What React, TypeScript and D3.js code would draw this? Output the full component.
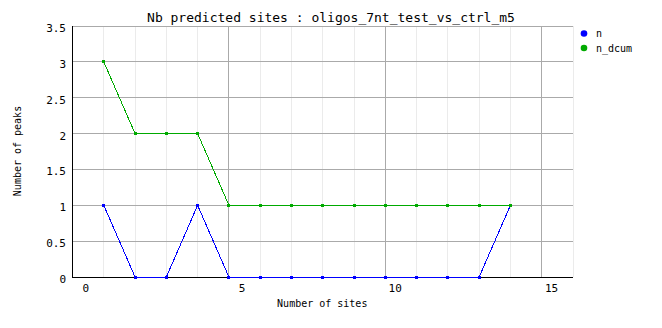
import React from "react";
import * as d3 from "d3";

const title = "Nb predicted sites : oligos_7nt_test_vs_ctrl_m5";
const xLabel = "Number of sites";
const yLabel = "Number of peaks";
const sites = [1, 2, 3, 4, 5, 6, 7, 8, 9, 10, 11, 12, 13, 14];
const seriesN = [1, 0, 0, 1, 0, 0, 0, 0, 0, 0, 0, 0, 0, 1];
const seriesNdcum = [3, 2, 2, 2, 1, 1, 1, 1, 1, 1, 1, 1, 1, 1];
const seriesNames = ["n", "n_dcum"];
const seriesColors = ["#0000ff", "#00aa00"];
const xTicks = [0, 5, 10, 15];
const yTicks = [0, 0.5, 1, 1.5, 2, 2.5, 3, 3.5];

const W = 662;
const H = 328;
const FONT = "'DejaVu Sans Mono', monospace";

export default function App() {
  const x = d3.scaleLinear().domain([0, 16]).range([72, 572.5]);
  const y = d3.scaleLinear().domain([0, 3.5]).range([276.5, 25.5]);
  const minorX = d3.range(1, 17);
  const majorX = minorX.filter((v) => v % 5 === 0);
  const series = [seriesN, seriesNdcum];
  const line = d3
    .line<number>()
    .x((_, i) => x(sites[i]))
    .y((d) => y(d));
  const px = (v: number) => Math.round(v) + 0.5;

  return (
    <svg
      width={W}
      height={H}
      style={{ position: "absolute", left: 0, top: 0, background: "#fff" }}
    >
      <rect x={0} y={0} width={W} height={H} fill="#fff" />
      {/* minor vertical grid */}
      <g shapeRendering="crispEdges">
        {minorX.map((v) => (
          <line
            key={"mn" + v}
            x1={px(x(v))}
            x2={px(x(v))}
            y1={y(3.5)}
            y2={y(0)}
            stroke="#ebebeb"
          />
        ))}
        {majorX.map((v) => (
          <line
            key={"mj" + v}
            x1={px(x(v))}
            x2={px(x(v))}
            y1={y(3.5)}
            y2={y(0)}
            stroke="#aaaaaa"
          />
        ))}
        {yTicks.map((v) => (
          <line
            key={"hy" + v}
            x1={x(0)}
            x2={x(16)}
            y1={px(y(v))}
            y2={px(y(v))}
            stroke="#aaaaaa"
          />
        ))}
        <line x1={px(x(0))} x2={px(x(0))} y1={y(3.5)} y2={y(0) + 1} stroke="#000" />
        <line x1={x(0)} x2={x(16)} y1={px(y(0))} y2={px(y(0))} stroke="#000" />
      </g>
      {/* series */}
      {series.map((s, si) => (
        <g key={"s" + si}>
          <path
            d={line(s) || ""}
            fill="none"
            stroke={seriesColors[si]}
            strokeWidth={1}
            shapeRendering="crispEdges"
            transform="translate(0.5,0.5)"
          />
          {s.map((d, i) => (
            <rect
              key={i}
              x={Math.round(x(sites[i])) - 1}
              y={Math.round(y(d)) - 1}
              width={3}
              height={3}
              fill={seriesColors[si]}
              shapeRendering="crispEdges"
            />
          ))}
        </g>
      ))}
      {/* y tick labels */}
      {yTicks.map((v) => (
        <text
          key={"yt" + v}
          x={66}
          y={y(v) + 6.5}
          textAnchor="end"
          fontFamily={FONT}
          fontSize={11}
          fill="#000"
        >
          {String(v)}
        </text>
      ))}
      {/* x tick labels */}
      {xTicks.map((v) => (
        <text
          key={"xt" + v}
          x={x(v) + 17}
          y={292}
          textAnchor="end"
          fontFamily={FONT}
          fontSize={11}
          fill="#000"
        >
          {String(v)}
        </text>
      ))}
      {/* title */}
      <text
        x={W / 2}
        y={22}
        textAnchor="middle"
        fontFamily={FONT}
        fontSize={13}
        fill="#000"
      >
        {title}
      </text>
      <text
        x={(x(0) + x(16)) / 2}
        y={307}
        textAnchor="middle"
        fontFamily={FONT}
        fontSize={10}
        fill="#000"
      >
        {xLabel}
      </text>
      <text
        transform={`translate(21,${(y(0) + y(3.5)) / 2}) rotate(-90)`}
        textAnchor="middle"
        fontFamily={FONT}
        fontSize={10}
        fill="#000"
      >
        {yLabel}
      </text>
      {/* legend */}
      {seriesNames.map((name, i) => (
        <g key={"lg" + i}>
          <circle cx={584} cy={33.5 + i * 14.5} r={3.3} fill={seriesColors[i]} />
          <text
            x={596}
            y={37 + i * 14.5}
            fontFamily={FONT}
            fontSize={10}
            fill="#000"
          >
            {name}
          </text>
        </g>
      ))}
    </svg>
  );
}
